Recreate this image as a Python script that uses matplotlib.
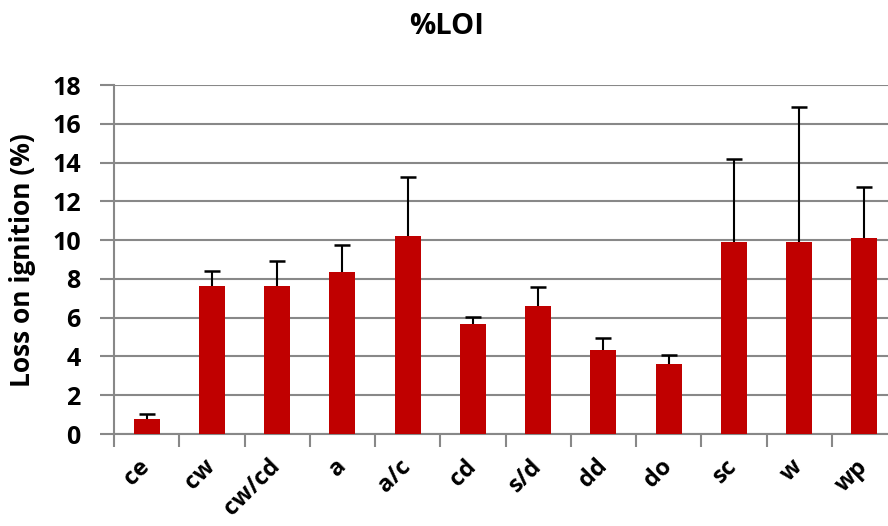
import numpy as np
import matplotlib
matplotlib.use("Agg")
import matplotlib.pyplot as plt

# sample sites and mean loss on ignition with error (upper bars only)
sites = ["ce", "cw", "cw/cd", "a", "a/c", "cd", "s/d", "dd", "do", "sc", "w", "wp"]
loi = [0.76, 7.63, 7.63, 8.35, 10.2, 5.67, 6.6, 4.33, 3.62, 9.9, 9.9, 10.09]
loi_err = [0.27, 0.79, 1.3, 1.41, 3.05, 0.38, 1.0, 0.6, 0.48, 4.27, 6.94, 2.64]

plt.rcParams['font.family'] = ['Open Sans', 'DejaVu Sans']
plt.rcParams['font.weight'] = 'bold'

fig = plt.figure(figsize=(8.88, 5.26), dpi=100)
ax = fig.add_axes([114 / 888, 92 / 526, 783 / 888, 349 / 526])

x = np.arange(len(sites))
top = np.array(loi) + np.array(loi_err)
ax.bar(x, loi, width=0.4, color="#C00000", zorder=3)
# error bar: stem up from bar top, cap only at the top
ax.vlines(x, loi, top, color="black", linewidth=1.5, zorder=4)
ax.plot(x, top, ls="none", marker="_", markersize=12, mew=1.8, color="black", zorder=4)

ax.set_xlim(-0.5, len(sites) - 0.5)
ax.set_ylim(0, 18)
ax.set_yticks(np.arange(0, 19, 2))
ax.yaxis.grid(True, color="#888888", linewidth=1.5, zorder=0)
ax.set_axisbelow(True)

ax.set_xticks(x)
ax.set_xticklabels(sites, rotation=45, fontsize=17, fontweight="bold",
                   ha="right", va="center", rotation_mode="anchor")
ax.set_xticks(np.arange(-0.5, len(sites), 1), minor=True)
ax.tick_params(axis="x", which="major", length=0, pad=21)
ax.tick_params(axis="x", which="minor", length=9, width=1.5, color="#888888")
ax.tick_params(axis="y", length=10, width=1.5, color="#888888", labelsize=18, pad=14)
for lab in ax.get_yticklabels():
    lab.set_fontweight("bold")

for s in ["top", "right"]:
    ax.spines[s].set_visible(False)
for s in ["left", "bottom"]:
    ax.spines[s].set_color("#888888")
    ax.spines[s].set_linewidth(1.5)

fig.text(23 / 888, 1 - 260 / 526, "Loss on ignition (%)", fontsize=19,
         fontweight="bold", rotation=90, ha="center", va="center")
fig.text(447 / 888, 1 - 26 / 526, "%LOI", fontsize=21, fontweight="bold",
         ha="center", va="center")

fig.savefig("out.png", dpi=100)
